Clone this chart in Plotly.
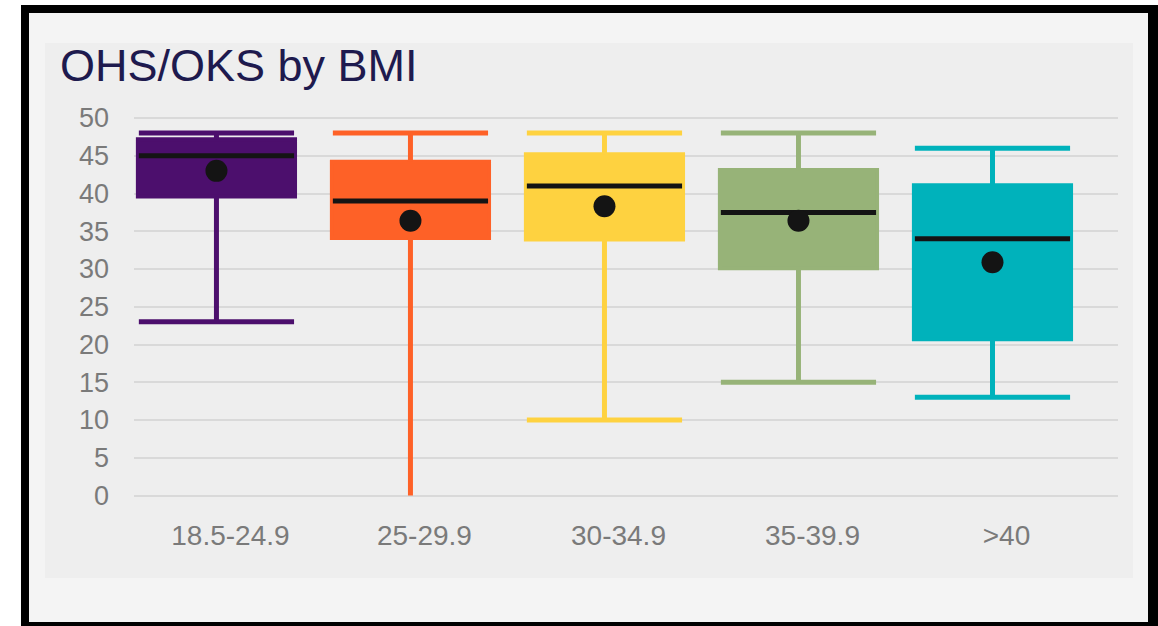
import plotly.graph_objects as go

# BMI bands and per-band score summaries (OHS/OKS, 0-48)
categories = ["18.5-24.9", "25-29.9", "30-34.9", "35-39.9", ">40"]
upper_whisker = [48, 48, 48, 48, 46]
q3 = [47.2, 44.2, 45.2, 43.1, 41.1]
median = [45, 39, 41, 37.5, 34]
q1 = [39.6, 34.1, 33.9, 30.1, 20.7]
lower_whisker = [23, 0, 10, 15, 13]
mean = [43, 36.4, 38.3, 36.4, 30.9]
colors = ["#4c0f6d", "#fe6127", "#fed240", "#97b378", "#00b2bb"]
y_ticks = list(range(0, 51, 5))
y_floor = 0

W, H = 1158, 626
ML, MR, MT, MB = 134, 40, 105, 116
PW, PH = W - ML - MR, H - MT - MB

positions = list(range(len(categories)))
half_cap = 0.40

fig = go.Figure()

for i, cat in enumerate(categories):
    # whisker stems
    fig.add_trace(go.Scatter(
        x=[i, i, None, i, i],
        y=[q3[i], upper_whisker[i], None, q1[i], lower_whisker[i]],
        mode="lines", line=dict(color=colors[i], width=5),
        hoverinfo="skip",
    ))
    # whisker caps (a whisker resting on the axis floor has no cap)
    cap_x, cap_y = [i - half_cap, i + half_cap], [upper_whisker[i]] * 2
    if lower_whisker[i] > y_floor:
        cap_x += [None, i - half_cap, i + half_cap]
        cap_y += [None, lower_whisker[i], lower_whisker[i]]
    fig.add_trace(go.Scatter(
        x=cap_x, y=cap_y, mode="lines",
        line=dict(color=colors[i], width=5), hoverinfo="skip",
    ))
    # interquartile box
    fig.add_trace(go.Box(
        x=[positions[i]],
        q1=[q1[i]], median=[median[i]], q3=[q3[i]],
        lowerfence=[q1[i]], upperfence=[q3[i]],
        name=cat,
        width=0.81,
        whiskerwidth=0,
        line=dict(color=colors[i], width=4),
        fillcolor=colors[i],
        boxpoints=False,
        hoverinfo="skip",
    ))

# Black median bars across each box
for i in positions:
    fig.add_trace(go.Scatter(
        x=[i - half_cap, i + half_cap],
        y=[median[i], median[i]],
        mode="lines",
        line=dict(color="#141414", width=5),
        hoverinfo="skip",
    ))

# Mean markers
fig.add_trace(go.Scatter(
    x=positions, y=mean, mode="markers",
    marker=dict(color="#141414", size=22),
    hoverinfo="skip",
))


def px_x(p):
    return (p - ML) / PW


def px_y(p):
    return (H - MB - p) / PH


shapes = [
    # black frame
    dict(type="rect", xref="paper", yref="paper",
         x0=px_x(21), x1=px_x(1170), y0=px_y(5), y1=px_y(640),
         fillcolor="#000000", line=dict(width=0), layer="below"),
    # light card
    dict(type="rect", xref="paper", yref="paper",
         x0=px_x(29), x1=px_x(1148), y0=px_y(13), y1=px_y(622),
         fillcolor="#f4f4f4", line=dict(width=0), layer="below"),
    # chart panel
    dict(type="rect", xref="paper", yref="paper",
         x0=px_x(45), x1=px_x(1133), y0=px_y(43), y1=px_y(578),
         fillcolor="#eeeeee", line=dict(width=0), layer="below"),
]

fig.update_layout(
    width=W, height=H,
    margin=dict(l=ML, r=MR, t=MT, b=MB, pad=0),
    paper_bgcolor="#ffffff",
    plot_bgcolor="rgba(0,0,0,0)",
    showlegend=False,
    boxmode="overlay",
    shapes=shapes,
    font=dict(family="Liberation Sans, Arial, sans-serif", color="#7a7a7a"),
    annotations=[dict(
        text="OHS/OKS by BMI", xref="paper", yref="paper",
        x=px_x(58), y=px_y(66), xanchor="left", yanchor="middle",
        showarrow=False,
        font=dict(size=45, color="#1e1a4e",
                  family="Liberation Sans, Arial, sans-serif"),
    )],
)

fig.update_xaxes(
    range=[-0.425, 4.647],
    tickmode="array", tickvals=positions, ticktext=categories,
    tickfont=dict(size=28, color="#7a7a7a"),
    ticklabelshift=14,
    ticklabelstandoff=6,
    showgrid=False, zeroline=False, showline=False, ticks="",
    fixedrange=True,
)

fig.update_yaxes(
    range=[(H - MB - 495.5) / -7.55, (495.5 - MT) / 7.55],
    tickmode="array", tickvals=y_ticks,
    tickfont=dict(size=27, color="#7a7a7a"),
    ticklabelstandoff=24,
    showgrid=True, gridcolor="#d9d9d9", gridwidth=2,
    zeroline=False, showline=False, ticks="",
    fixedrange=True,
)

fig.write_html("out.html")
